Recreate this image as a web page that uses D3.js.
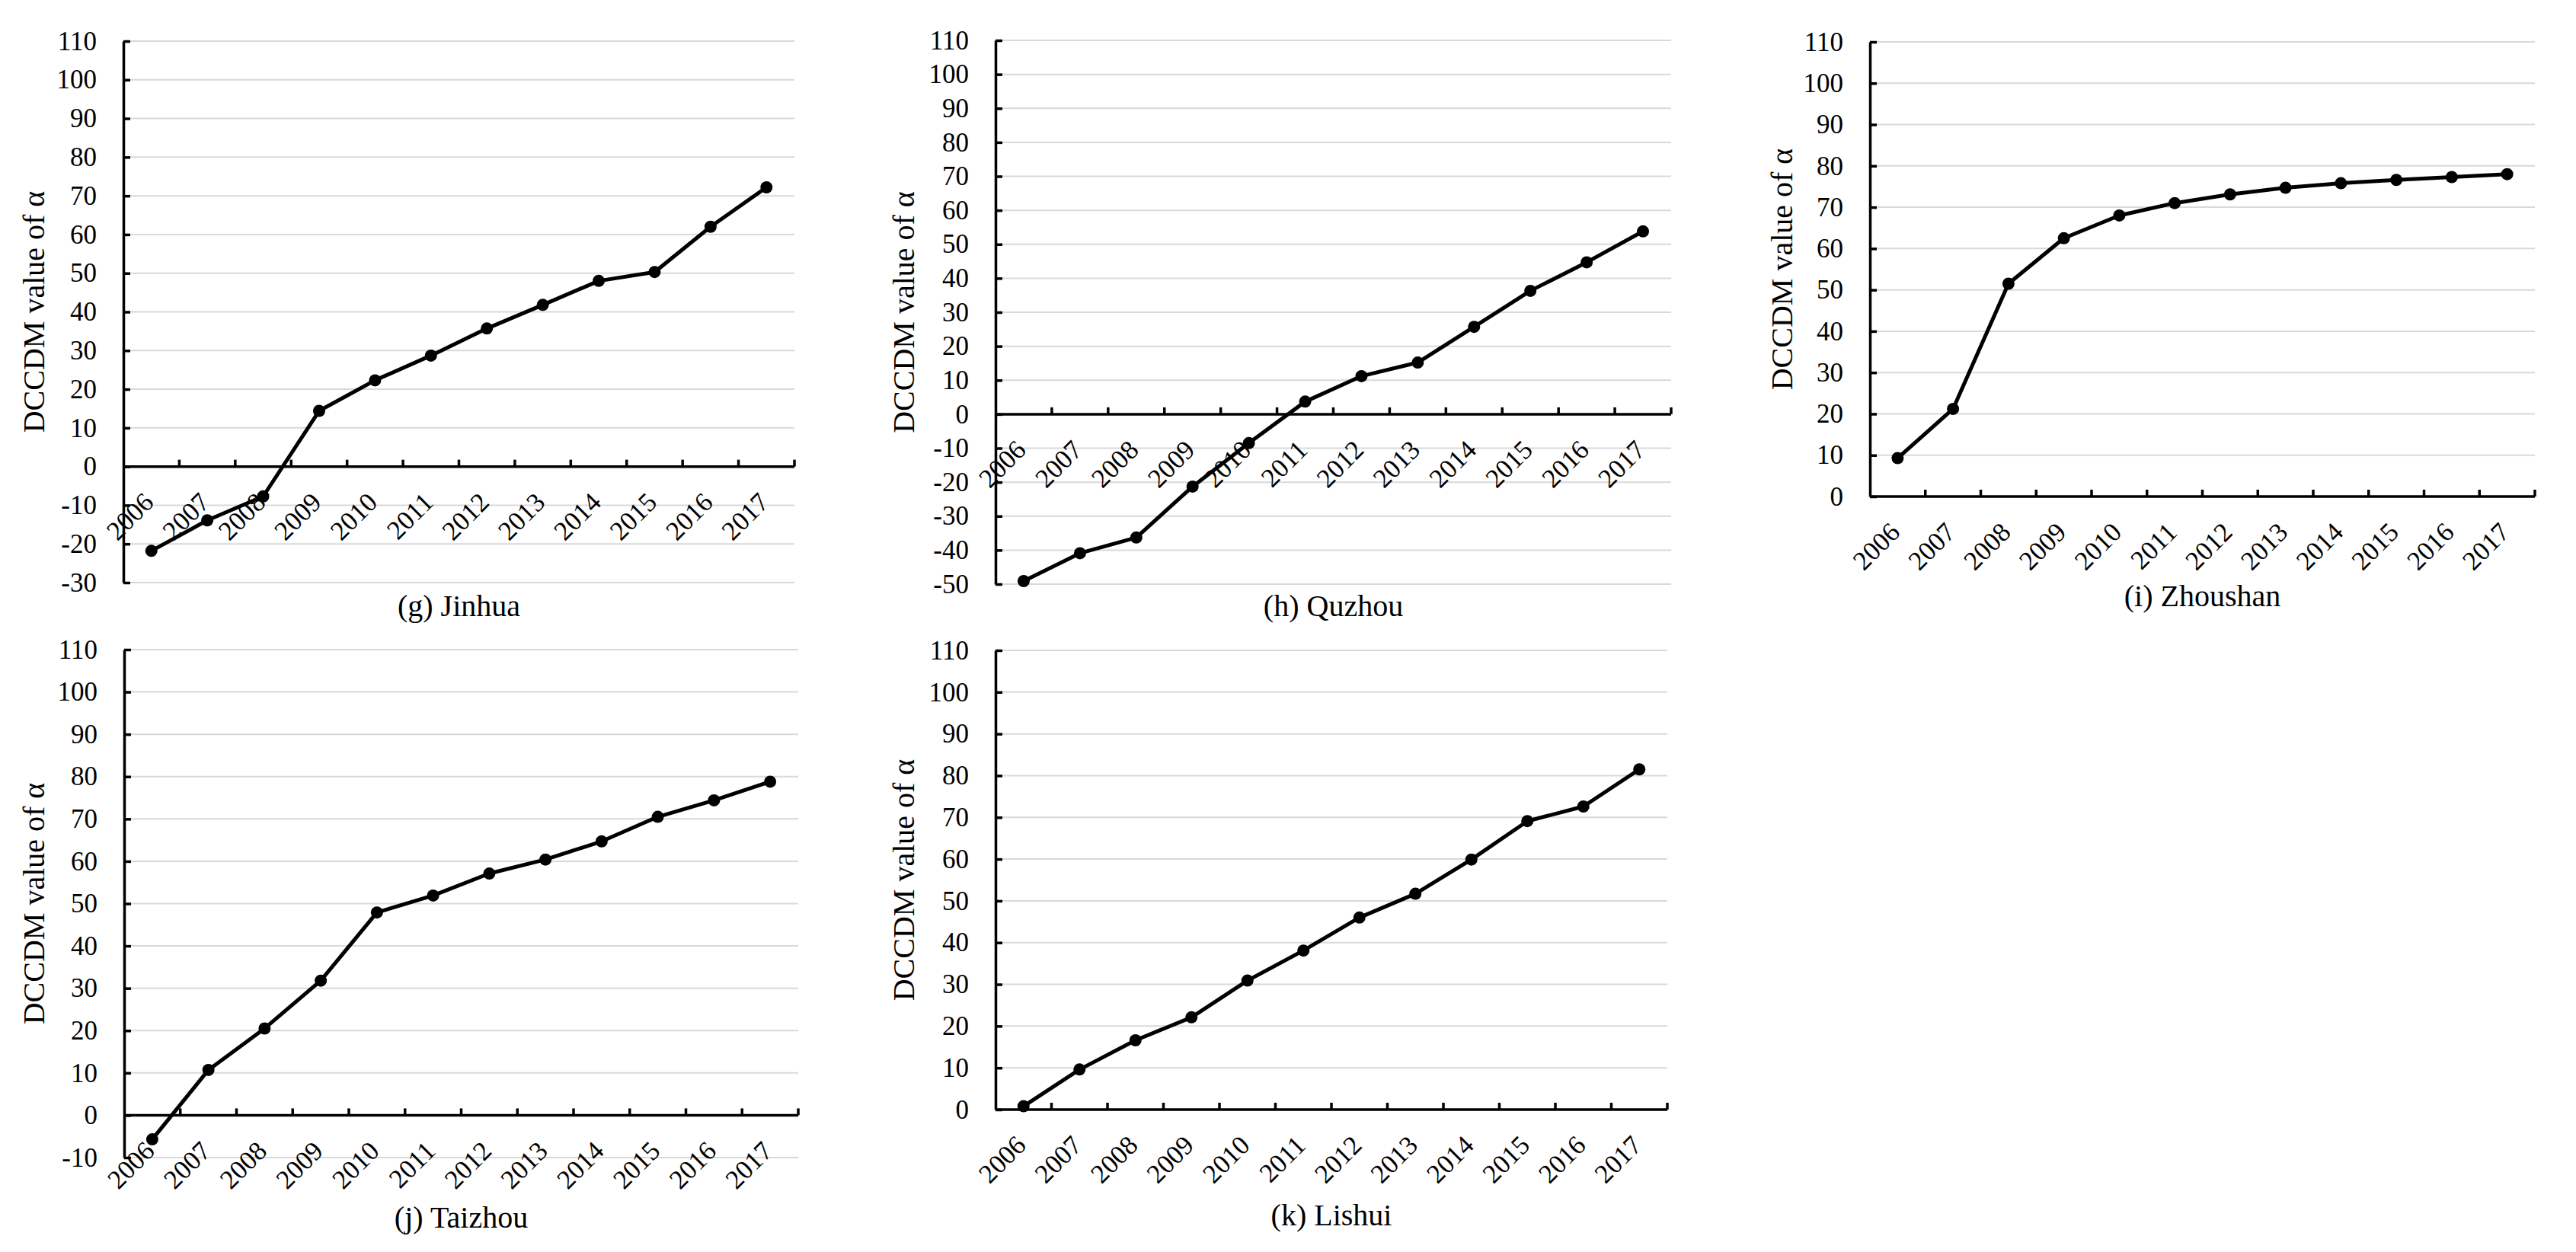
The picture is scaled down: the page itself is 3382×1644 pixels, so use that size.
<!DOCTYPE html>
<html><head><meta charset="utf-8">
<script src="https://cdn.jsdelivr.net/npm/d3@7"></script>
<style>html,body{margin:0;padding:0;background:#fff;} svg{display:block;}</style>
</head><body>
<svg id="chart" width="3382" height="1644"></svg>
<script>
// ---- data ----
const years = ["2006","2007","2008","2009","2010","2011","2012","2013","2014","2015","2016","2017"];
const jinhua   = [-21.8,-13.9,-7.7,14.4,22.3,28.7,35.7,41.8,48.0,50.3,62.0,72.2];
const quzhou   = [-49.1,-40.9,-36.3,-21.3,-8.5,3.7,11.2,15.2,25.7,36.3,44.7,53.8];
const zhoushan = [9.3,21.2,51.5,62.5,68.0,71.0,73.1,74.7,75.8,76.6,77.3,78.0];
const taizhou  = [-5.7,10.7,20.5,31.8,47.9,51.9,57.1,60.4,64.7,70.5,74.4,78.8];
const lishui   = [0.8,9.6,16.6,22.1,30.9,38.1,46.0,51.7,59.9,69.1,72.6,81.5];
const panelTitles = ["(g) Jinhua","(h) Quzhou","(i) Zhoushan","(j) Taizhou","(k) Lishui"];
const panelSeries = [jinhua, quzhou, zhoushan, taizhou, lishui];
const yMins = [-30,-50,0,-10,0];
const yMax = 110;
const yStep = 10;
const yAxisTitle = "DCCDM value of α";

// ---- layout ----
const frames = [
  {x0:162, x1:1043, y0:54,  y1:765,  titleY:809,  labelX:58},
  {x0:1307,x1:2194, y0:53,  y1:767,  titleY:809,  labelX:1200},
  {x0:2455,x1:3328, y0:55,  y1:652,  titleY:796,  labelX:2353},
  {x0:163, x1:1048, y0:853, y1:1520, titleY:1612, labelX:58},
  {x0:1307,x1:2189, y0:854, y1:1457, titleY:1609, labelX:1200}
];
const FONT = "'Liberation Serif','Times New Roman',serif";

const svg = d3.select("#chart");
svg.append("rect").attr("width",3382).attr("height",1644).attr("fill","#fff");

panelSeries.forEach((vals, i) => {
  const f = frames[i];
  const g = svg.append("g");
  const x = d3.scaleBand().domain(years).range([f.x0, f.x1]).padding(0);
  const y = d3.scaleLinear().domain([yMins[i], yMax]).range([f.y1, f.y0]);
  const ticks = d3.range(yMins[i], yMax + 0.001, yStep);

  // gridlines
  g.selectAll("line.grid").data(ticks).join("line")
    .attr("x1", f.x0).attr("x2", f.x1)
    .attr("y1", d => y(d)).attr("y2", d => y(d))
    .attr("stroke", "#d9d9d9").attr("stroke-width", 2);

  // y axis
  const yAxis = d3.axisLeft(y).tickValues(ticks).tickSize(-9).tickSizeOuter(0).tickPadding(35)
    .tickFormat(d => String(d));
  const ya = g.append("g").attr("transform", `translate(${f.x0},0)`).call(yAxis);
  ya.select(".domain").attr("stroke", "#000").attr("stroke-width", 3.5);
  ya.selectAll(".tick line").attr("stroke", "#000").attr("stroke-width", 3.5);
  ya.selectAll(".tick text").attr("font-family", FONT).attr("font-size", 35).attr("fill", "#000");

  // x axis at zero
  const y0 = y(0);
  g.append("line").attr("x1", f.x0).attr("x2", f.x1).attr("y1", y0).attr("y2", y0)
    .attr("stroke", "#000").attr("stroke-width", 3.5);
  const bounds = years.slice(1).map(d => x(d)).concat([f.x1]);
  g.selectAll("line.xt").data(bounds).join("line")
    .attr("x1", d => d).attr("x2", d => d).attr("y1", y0).attr("y2", y0 - 9)
    .attr("stroke", "#000").attr("stroke-width", 3.5);
  g.selectAll("text.xl").data(years).join("text")
    .attr("transform", d => `translate(${x(d) + x.bandwidth()/2 + 5},${y0 + 49}) rotate(-45)`)
    .attr("text-anchor", "end")
    .attr("font-family", FONT).attr("font-size", 35).attr("fill", "#000")
    .text(d => d);

  // line + markers
  const pts = years.map((yr, k) => ({yr, v: vals[k]}));
  const line = d3.line().x(d => x(d.yr) + x.bandwidth()/2).y(d => y(d.v));
  g.append("path").datum(pts).attr("d", line).attr("fill", "none")
    .attr("stroke", "#000").attr("stroke-width", 5).attr("stroke-linejoin", "round");
  g.selectAll("circle").data(pts).join("circle")
    .attr("cx", d => x(d.yr) + x.bandwidth()/2).attr("cy", d => y(d.v)).attr("r", 8)
    .attr("fill", "#000");

  // y axis title
  g.append("text")
    .attr("transform", `translate(${f.labelX},${(f.y0 + f.y1)/2}) rotate(-90)`)
    .attr("text-anchor", "middle")
    .attr("font-family", FONT).attr("font-size", 40).attr("fill", "#000")
    .text(yAxisTitle);

  // panel title
  g.append("text")
    .attr("x", (f.x0 + f.x1)/2).attr("y", f.titleY)
    .attr("text-anchor", "middle")
    .attr("font-family", FONT).attr("font-size", 40).attr("fill", "#000")
    .text(panelTitles[i]);
});
</script>
</body></html>
